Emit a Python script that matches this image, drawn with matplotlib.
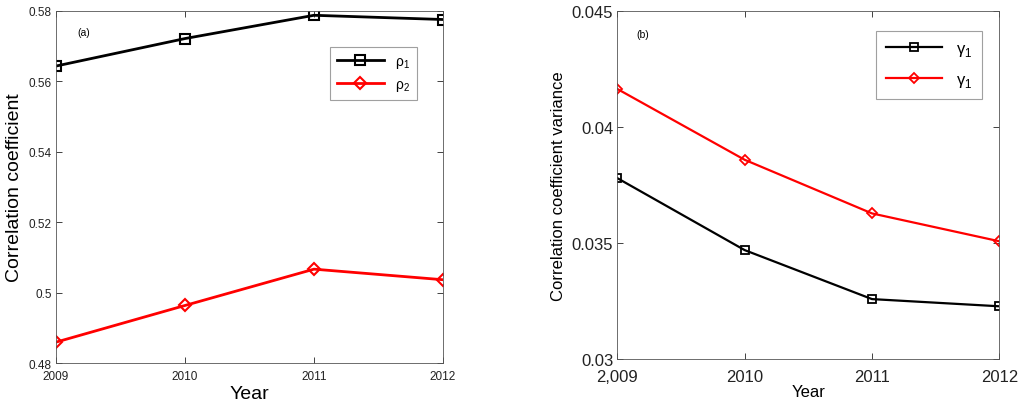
import matplotlib
matplotlib.use('Agg')
import matplotlib.pyplot as plt

years = [2009, 2010, 2011, 2012]
year_labels_a = ['2009', '2010', '2011', '2012']
year_labels_b = ['2,009', '2010', '2011', '2012']

rho1 = [0.5643, 0.5721, 0.5787, 0.5775]
rho2 = [0.4860, 0.4964, 0.5067, 0.5037]

gamma_black = [0.03779, 0.03469, 0.03258, 0.03227]
gamma_red = [0.04163, 0.03858, 0.03627, 0.03507]

plt.rcParams['font.family'] = ['Liberation Sans', 'DejaVu Sans']
plt.rcParams['mathtext.fontset'] = 'custom'
plt.rcParams['mathtext.rm'] = 'Liberation Sans'

fig = plt.figure(figsize=(10.24, 4.06), dpi=100)
ax1 = fig.add_axes([56 / 1024, 1 - 364.3 / 406, 387 / 1024, 352.6 / 406])
ax2 = fig.add_axes([617.3 / 1024, 1 - 360 / 406, 382 / 1024, 348.3 / 406])


def style_axis(ax, labelsize):
    ax.tick_params(direction='in', top=True, right=True, length=4,
                   width=0.6, labelsize=labelsize, colors='#222222', pad=3)
    for sp in ax.spines.values():
        sp.set_linewidth(0.6)
        sp.set_color('#555555')


# (a)
ax1.plot(years, rho1, color='black', lw=2, marker='s', ms=7, mfc='none',
         mec='black', mew=1.5, label='ρ$_1$')
ax1.plot(years, rho2, color='red', lw=2, marker='D', ms=6, mfc='none',
         mec='red', mew=1.5, label='ρ$_2$')
ax1.set_xlim(2009, 2012)
ax1.set_ylim(0.48, 0.58)
ax1.set_xticks(years)
ax1.set_xticklabels(year_labels_a)
ax1.set_yticks([0.48, 0.5, 0.52, 0.54, 0.56, 0.58])
ax1.set_yticklabels(['0.48', '0.5', '0.52', '0.54', '0.56', '0.58'])
style_axis(ax1, 8.5)
ax1.tick_params(axis='x', pad=5)
ax1.set_xlabel('Year', fontsize=14, labelpad=2)
ax1.set_ylabel('Correlation coefficient', fontsize=14, labelpad=4)
ax1.text(0.055, 0.93, '(a)', transform=ax1.transAxes, fontsize=7.5)
leg1 = ax1.legend(loc='upper right', bbox_to_anchor=(0.933, 0.897), fontsize=10,
                  fancybox=False, edgecolor='#888888', handlelength=3.4,
                  borderpad=0.5, labelspacing=0.5, handletextpad=0.8,
                  borderaxespad=0)
leg1.get_frame().set_linewidth(0.8)

# (b)
ax2.plot(years, gamma_black, color='black', lw=1.6, marker='s', ms=6, mfc='none',
         mec='black', mew=1.3, label='γ$_1$')
ax2.plot(years, gamma_red, color='red', lw=1.6, marker='D', ms=5.5, mfc='none',
         mec='red', mew=1.3, label='γ$_1$')
ax2.set_xlim(2009, 2012)
ax2.set_ylim(0.03, 0.045)
ax2.set_xticks(years)
ax2.set_xticklabels(year_labels_b)
ax2.set_yticks([0.03, 0.035, 0.04, 0.045])
ax2.set_yticklabels(['0.03', '0.035', '0.04', '0.045'])
style_axis(ax2, 12)
ax2.tick_params(axis='x', pad=7)
ax2.set_xlabel('Year', fontsize=12, labelpad=0)
ax2.set_ylabel('Correlation coefficient variance', fontsize=12, labelpad=4)
ax2.text(0.05, 0.925, '(b)', transform=ax2.transAxes, fontsize=7.5)
leg2 = ax2.legend(loc='upper right', bbox_to_anchor=(0.955, 0.942), fontsize=12,
                  fancybox=False, edgecolor='#888888', handlelength=3.4,
                  borderpad=0.6, labelspacing=0.85, handletextpad=0.8,
                  borderaxespad=0)
leg2.get_frame().set_linewidth(0.8)

fig.savefig('out.png', dpi=100)
